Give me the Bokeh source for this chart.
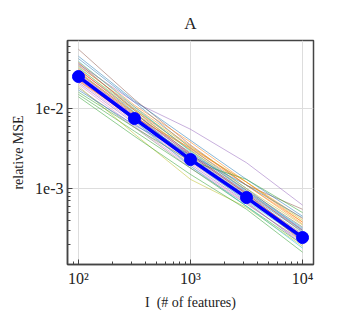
from bokeh.plotting import figure
from bokeh.embed import file_html
from bokeh.resources import INLINE
from bokeh.models import CustomJSTickFormatter, Range1d

# data
features = [100, 316, 1000, 3162, 10000]
mean_mse = [0.0251, 0.0075, 0.0023, 0.00077, 0.000244]

palette = ["#1f77b4", "#ff7f0e", "#2ca02c", "#d62728", "#9467bd",
           "#8c564b", "#e377c2", "#7f7f7f", "#bcbd22", "#17becf"]

runs = [
    [0.042, 0.0120, 0.0032, 0.00100, 0.00030],
    [0.030, 0.0095, 0.0031, 0.00110, 0.00038],
    [0.015, 0.0052, 0.0018, 0.00060, 0.00020],
    [0.028, 0.0082, 0.0024, 0.00080, 0.00026],
    [0.036, 0.0120, 0.0055, 0.00210, 0.00062],
    [0.055, 0.0130, 0.0035, 0.00110, 0.00055],
    [0.022, 0.0068, 0.0021, 0.00072, 0.00024],
    [0.026, 0.0078, 0.0025, 0.00082, 0.00027],
    [0.019, 0.0048, 0.0013, 0.00058, 0.00019],
    [0.033, 0.0090, 0.0022, 0.00070, 0.00023],
    [0.024, 0.0075, 0.0026, 0.00085, 0.00029],
    [0.038, 0.0110, 0.0038, 0.00120, 0.00042],
    [0.014, 0.0045, 0.0015, 0.00055, 0.00016],
    [0.031, 0.0088, 0.0026, 0.00086, 0.00025],
    [0.027, 0.0080, 0.0027, 0.00090, 0.00031],
    [0.029, 0.0085, 0.0028, 0.00095, 0.00033],
    [0.020, 0.0060, 0.0019, 0.00066, 0.00021],
    [0.035, 0.0100, 0.0030, 0.00095, 0.00028],
    [0.032, 0.0098, 0.0033, 0.00120, 0.00040],
    [0.025, 0.0070, 0.0019, 0.00060, 0.00018],
    [0.045, 0.0125, 0.0040, 0.00130, 0.00045],
    [0.034, 0.0105, 0.0034, 0.00110, 0.00036],
    [0.016, 0.0058, 0.0022, 0.00130, 0.00050],
    [0.023, 0.0072, 0.0023, 0.00078, 0.00022],
    [0.021, 0.0065, 0.0020, 0.00068, 0.00020],
    [0.037, 0.0095, 0.0027, 0.00088, 0.00030],
    [0.027, 0.0074, 0.0022, 0.00075, 0.00026],
    [0.018, 0.0058, 0.0018, 0.00064, 0.00022],
    [0.028, 0.0088, 0.0030, 0.00100, 0.00035],
    [0.039, 0.0105, 0.0029, 0.00092, 0.00032],
    [0.017, 0.0062, 0.0026, 0.00110, 0.00043],
    [0.022, 0.0078, 0.0032, 0.00120, 0.00038],
]

FONT = "Liberation Serif"

p = figure(width=340, height=320, x_axis_type="log", y_axis_type="log",
           x_range=Range1d(10**1.902, 10**4.098), y_range=Range1d(10**-3.95, 10**-1.15),
           output_backend="svg", toolbar_location=None,
           title="A", min_border_left=67, min_border_right=27,
           min_border_top=40, min_border_bottom=56)

p.title.align = "center"
p.title.text_font = FONT
p.title.text_font_size = "17px"
p.title.text_font_style = "normal"
p.title.text_color = "#222222"
p.title.standoff = 15

for i, r in enumerate(runs):
    p.line(features, r, line_color=palette[i % 10], line_width=0.8, line_alpha=0.65)

p.line(features, mean_mse, line_color="blue", line_width=3.5)
p.scatter(features, mean_mse, size=12, fill_color="blue", line_color="blue")

p.outline_line_color = "#444444"
p.outline_line_width = 1.5

for ax in (p.xaxis[0], p.yaxis[0]):
    ax.major_tick_in = 5
    ax.major_tick_out = 0
    ax.minor_tick_in = 3
    ax.minor_tick_out = 0
    ax.axis_line_color = "#444444"
    ax.axis_line_width = 1.5
    ax.major_tick_line_color = "#444444"
    ax.minor_tick_line_color = "#444444"
    ax.major_label_text_font = FONT
    ax.major_label_text_font_size = "16px"
    ax.major_label_text_color = "#222222"
    ax.axis_label_text_font = FONT
    ax.axis_label_text_font_size = "14px"
    ax.axis_label_text_font_style = "normal"
    ax.axis_label_text_color = "#222222"

p.yaxis.major_label_standoff = 4
p.yaxis.axis_label_standoff = 6

p.xaxis.axis_label = "I\u00a0 (# of features)"
p.yaxis.axis_label = "relative MSE"

p.xaxis.formatter = CustomJSTickFormatter(code="""
const sup = {'0':'\u2070','1':'\u00b9','2':'\u00b2','3':'\u00b3','4':'\u2074','5':'\u2075','6':'\u2076','7':'\u2077','8':'\u2078','9':'\u2079','-':'\u207b'};
const e = Math.round(Math.log10(tick));
return '10' + String(e).split('').map(c => sup[c]).join('');
""")
p.yaxis.formatter = CustomJSTickFormatter(code="""
const e = Math.round(Math.log10(tick));
return '1e' + e;
""")

p.xgrid.grid_line_color = "#dddddd"
p.ygrid.grid_line_color = "#dddddd"
p.background_fill_color = "white"
p.border_fill_color = "white"

open("out.html", "w").write(file_html(p, INLINE))
